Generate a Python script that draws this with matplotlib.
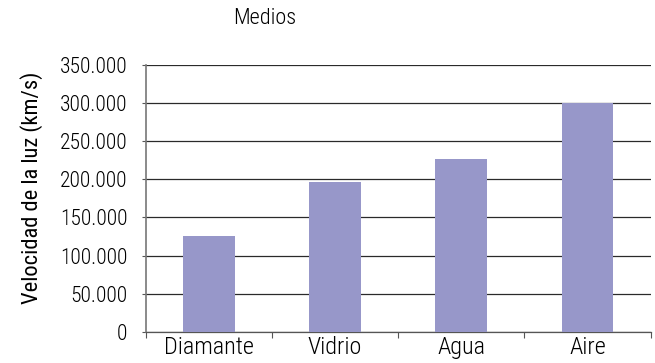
import matplotlib
matplotlib.use("Agg")
import matplotlib.pyplot as plt
from matplotlib import font_manager

categories = ["Diamante", "Vidrio", "Agua", "Aire"]
speeds = [125000, 196000, 226000, 300000]
yticks = [0, 50000, 100000, 150000, 200000, 250000, 300000, 350000]

available = {f.name for f in font_manager.fontManager.ttflist}
family = "DejaVu Sans"
for cand in ["Liberation Sans Narrow", "Roboto Condensed", "DejaVu Sans Condensed", "Liberation Sans"]:
    if cand in available:
        family = cand
        break
plt.rcParams["font.family"] = family
plt.rcParams["font.weight"] = "light"

W, H = 655, 363
fig = plt.figure(figsize=(W / 100, H / 100), dpi=100)
left, right, top, bottom = 145.5, 650.7, 65, 331.7
ax = fig.add_axes([left / W, 1 - bottom / H, (right - left) / W, (bottom - top) / H])

x = list(range(len(categories)))
ax.bar(x, speeds, width=0.41, color="#9797c9", zorder=3)
ax.set_xlim(-0.5, len(categories) - 0.5)
ax.set_ylim(0, 350000)
ax.set_yticks(yticks)
ax.set_yticklabels([f"{v:,}".replace(",", ".") for v in yticks], fontsize=15.5)
ax.set_xticks(x)
ax.set_xticklabels(categories, fontsize=17.5)
ax.set_xticks([i + 0.5 for i in range(-1, len(categories))], minor=True)
ax.tick_params(axis="x", which="major", length=0, pad=3)
ax.tick_params(axis="x", which="minor", length=4, color="#555555", width=0.8)
ax.tick_params(axis="y", length=3, color="#555555", width=0.8, pad=10)
ax.grid(axis="y", color="#2a2a2a", linewidth=0.9, zorder=0)
for s in ["top", "right"]:
    ax.spines[s].set_visible(False)
ax.spines["left"].set_color("#777777")
ax.spines["left"].set_linewidth(1.2)
ax.spines["bottom"].set_color("#555555")
ax.spines["bottom"].set_linewidth(0.9)

ax.set_ylabel("Velocidad de la luz (km/s)", fontsize=16.2)
ax.yaxis.set_label_coords((43 - left) / (right - left), (bottom - 188) / (bottom - top))
fig.text(265 / W, 1 - 19 / H, "Medios", ha="center", va="center", fontsize=16)

fig.savefig("out.png", dpi=100)
